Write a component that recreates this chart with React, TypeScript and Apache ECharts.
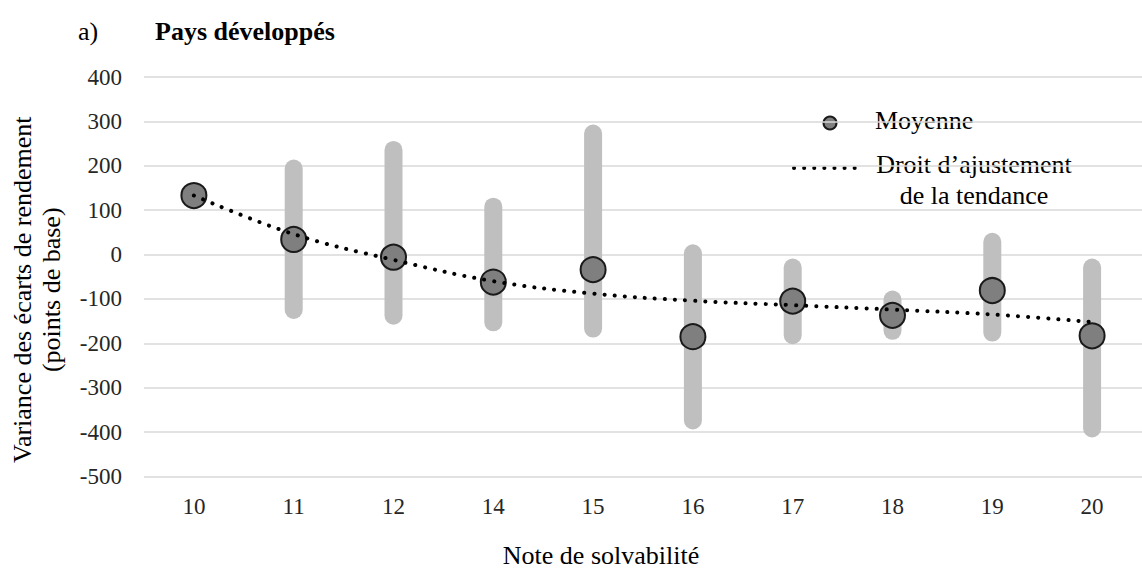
import React, { useEffect, useRef } from "react";
import * as echarts from "echarts";

const categories = ["10", "11", "12", "14", "15", "16", "17", "18", "19", "20"];
const meanValues = [133, 34, -6, -62, -34, -185, -105, -137, -81, -183];
const rangeLow: (number | null)[] = [null, -145, -158, -173, -187, -394, -202, -192, -196, -412];
const rangeHigh: (number | null)[] = [null, 214, 256, 128, 293, 23, -9, -81, 49, -9];
const trendValues = [133, 46, -12, -60, -88, -104, -114, -124, -135, -152];
const yTicks = { min: -500, max: 400, interval: 100 };

const FONT = "Liberation Serif";

export default function App() {
  const ref = useRef<HTMLDivElement>(null);
  useEffect(() => {
    if (!ref.current) return;
    const chart = echarts.init(ref.current, undefined, { renderer: "svg" });
    const rangeData = categories
      .map((c, i) => (rangeLow[i] === null ? null : [c, rangeLow[i], rangeHigh[i]]))
      .filter((d) => d !== null);
    chart.setOption({
      animation: false,
      backgroundColor: "#ffffff",
      textStyle: { fontFamily: FONT },
      grid: { left: 143, top: 77, width: 1010, height: 399.5 },
      xAxis: {
        type: "category",
        data: categories,
        axisLine: { show: false },
        axisTick: { show: false },
        axisLabel: { fontFamily: FONT, fontSize: 23, color: "#262626", margin: 18 },
      },
      yAxis: {
        type: "value",
        min: yTicks.min,
        max: yTicks.max,
        interval: yTicks.interval,
        axisLine: { show: false },
        axisTick: { show: false },
        axisLabel: { fontFamily: FONT, fontSize: 23, color: "#262626", margin: 22 },
        splitLine: { lineStyle: { color: "#d9d9d9", width: 1.5 } },
        name: "Variance des écarts de rendement\n(points de base)",
        nameLocation: "middle",
        nameGap: 78,
        nameTextStyle: {
          fontFamily: FONT,
          fontSize: 26,
          color: "#000",
          lineHeight: 29,
          padding: [0, 26, 0, 0],
        },
      },
      series: [
        {
          type: "custom",
          name: "Plage",
          data: rangeData,
          encode: { x: 0, y: [1, 2] },
          z: 1,
          renderItem: (params: any, api: any) => {
            const x = api.coord([api.value(0), 0])[0];
            const top = api.coord([api.value(0), api.value(2)])[1];
            const bot = api.coord([api.value(0), api.value(1)])[1];
            return {
              type: "rect",
              shape: { x: x - 9, y: top, width: 18, height: bot - top, r: 9 },
              style: { fill: "#bfbfbf" },
            };
          },
        },
        {
          type: "scatter",
          name: "Moyenne",
          data: meanValues,
          symbol: "circle",
          symbolSize: 25,
          z: 2,
          itemStyle: { color: "#7f7f7f", borderColor: "#1a1a1a", borderWidth: 2, opacity: 1 },
        },
        {
          type: "line",
          name: "Droit d’ajustement de la tendance",
          data: trendValues,
          smooth: 0.4,
          showSymbol: false,
          symbol: "none",
          z: 3,
          lineStyle: { color: "#000", width: 4, type: [0.1, 10], cap: "round" },
        },
      ],
      graphic: [
        {
          type: "text",
          x: 78,
          y: 31,
          style: { text: "a)", fontFamily: FONT, fontSize: 26, fill: "#000", verticalAlign: "middle" },
        },
        {
          type: "text",
          x: 155,
          y: 31,
          style: {
            text: "Pays développés",
            fontFamily: FONT,
            fontSize: 26,
            fontWeight: "bold",
            fill: "#000",
            verticalAlign: "middle",
          },
        },
        {
          type: "text",
          x: 601,
          y: 555,
          style: {
            text: "Note de solvabilité",
            fontFamily: FONT,
            fontSize: 26,
            fill: "#000",
            align: "center",
            verticalAlign: "middle",
          },
        },
        {
          type: "circle",
          shape: { cx: 830, cy: 123, r: 6.5 },
          style: { fill: "#7f7f7f", stroke: "#1a1a1a", lineWidth: 2 },
        },
        {
          type: "text",
          x: 875,
          y: 120,
          style: {
            text: "Moyenne",
            fontFamily: FONT,
            fontSize: 26,
            fill: "#000",
            align: "left",
            verticalAlign: "middle",
          },
        },
        {
          type: "line",
          shape: { x1: 794, y1: 168, x2: 862, y2: 168 },
          style: { stroke: "#000", lineWidth: 4, lineDash: [0.1, 10], lineCap: "round" },
        },
        {
          type: "text",
          x: 974,
          y: 180,
          style: {
            text: "Droit d’ajustement\nde la tendance",
            fontFamily: FONT,
            fontSize: 26,
            fill: "#000",
            align: "center",
            verticalAlign: "middle",
            lineHeight: 31,
          },
        },
      ],
    });
    return () => chart.dispose();
  }, []);
  return (
    <div
      ref={ref}
      style={{ position: "absolute", left: 0, top: 0, width: 1142, height: 571, background: "#fff" }}
    />
  );
}
